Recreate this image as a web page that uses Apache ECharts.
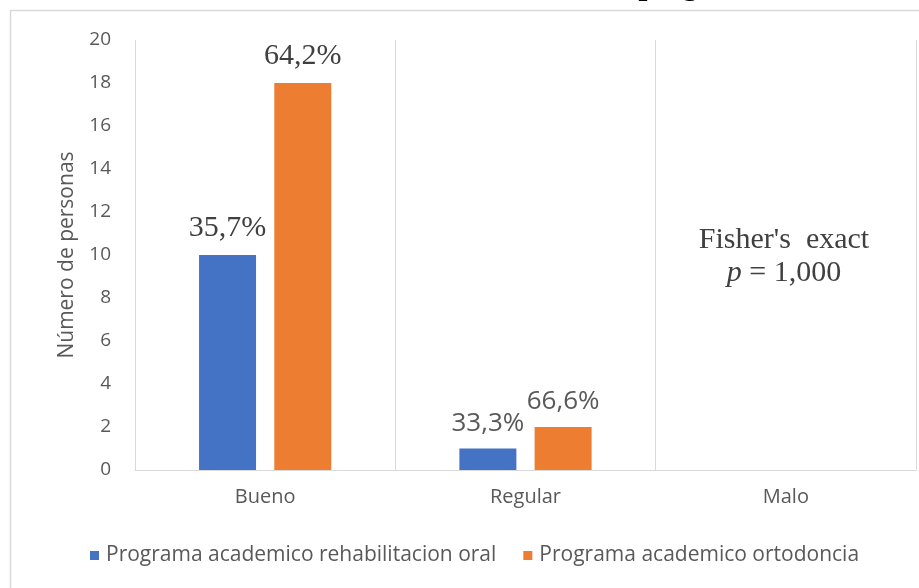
<!DOCTYPE html>
<html>
<head>
<meta charset="utf-8">
<script src="https://cdn.jsdelivr.net/npm/echarts@6/dist/echarts.min.js"></script>
<style>
  html, body { margin: 0; padding: 0; background: #fff; }
  #chart { width: 919px; height: 588px; }
</style>
</head>
<body>
<div id="chart"></div>
<script>
// Categories and counts per academic programme
const categories = ['Bueno', 'Regular', 'Malo'];
const seriesNames = ['Programa academico rehabilitacion oral', 'Programa academico ortodoncia'];
const rehabilitacion = [10, 1, 0];
const ortodoncia = [18, 2, 0];
const rehabilitacionPct = ['35,7%', '33,3%', ''];
const ortodonciaPct = ['64,2%', '66,6%', ''];
const yTicks = { min: 0, max: 20, interval: 2 };
const annotationLines = ["Fisher's  exact", '{i|p} = 1,000'];

const SERIF = '"Liberation Serif", "Times New Roman", serif';
const SANS = '"Open Sans", "Noto Sans", sans-serif';

const serifLabel = { fontFamily: SERIF, fontSize: 30, color: '#404040' };
const sansLabel = { fontFamily: SANS, fontSize: 26, color: '#595959' };

// Bueno labels are set in serif; Regular labels in sans
function buildData(values, pcts) {
  return values.map((v, i) => ({
    value: v,
    label: Object.assign({ formatter: pcts[i] }, i === 0 ? serifLabel : sansLabel)
  }));
}

const chart = echarts.init(document.getElementById('chart'), null, { renderer: 'canvas' });

chart.setOption({
  animation: false,
  backgroundColor: '#ffffff',
  grid: { left: 135, right: 3, top: 40, bottom: 118, containLabel: false },
  legend: {
    left: 85,
    top: 540,
    icon: 'rect',
    itemWidth: 9,
    itemHeight: 9,
    itemGap: 27,
    textStyle: { fontFamily: SANS, fontSize: 21, color: '#595959', padding: [0, 0, 0, 2] },
    data: seriesNames
  },
  xAxis: {
    type: 'category',
    data: categories,
    axisTick: { show: false },
    axisLine: { lineStyle: { color: '#d9d9d9', width: 1 } },
    splitLine: { show: true, lineStyle: { color: '#d9d9d9', width: 1 } },
    axisLabel: { fontFamily: SANS, fontSize: 20, color: '#595959', margin: 17 }
  },
  yAxis: {
    type: 'value',
    min: yTicks.min,
    max: yTicks.max,
    interval: yTicks.interval,
    name: 'Número de personas',
    nameLocation: 'middle',
    nameGap: 57,
    nameTextStyle: { fontFamily: SANS, fontSize: 21, color: '#595959' },
    axisLine: { show: false },
    axisTick: { show: false },
    splitLine: { show: false },
    axisLabel: { fontFamily: SANS, fontSize: 19, color: '#595959', margin: 24 }
  },
  series: [
    {
      name: seriesNames[0],
      type: 'bar',
      barWidth: 57,
      barGap: '32%',
      itemStyle: { color: '#4472C4' },
      label: { show: true, position: 'top', distance: 12 },
      data: buildData(rehabilitacion, rehabilitacionPct)
    },
    {
      name: seriesNames[1],
      type: 'bar',
      barWidth: 57,
      itemStyle: { color: '#ED7D31' },
      label: { show: true, position: 'top', distance: 12 },
      data: buildData(ortodoncia, ortodonciaPct)
    }
  ],
  graphic: [
    {
      type: 'rect',
      left: 8, top: 8,
      shape: { width: 930, height: 600 },
      style: { fill: 'none', stroke: '#d9d9d9', lineWidth: 1.5 },
      silent: true
    },
    {
      // caption above the chart frame, only its descenders fall inside the page
      type: 'text',
      x: 641, y: -30,
      style: {
        text: 'progr',
        fontFamily: SERIF, fontStyle: 'italic', fontWeight: 'bold', fontSize: 32,
        fill: '#000', verticalAlign: 'top'
      },
      silent: true
    },
    {
      type: 'text',
      x: 784, y: 240,
      style: {
        text: annotationLines[0],
        fontFamily: SERIF, fontSize: 30, fill: '#404040',
        align: 'center', verticalAlign: 'middle'
      },
      silent: true
    },
    {
      type: 'text',
      x: 784, y: 273,
      style: {
        text: annotationLines[1],
        fontFamily: SERIF, fontSize: 30, fill: '#404040',
        align: 'center', verticalAlign: 'middle',
        rich: { i: { fontFamily: SERIF, fontStyle: 'italic', fontSize: 30, fill: '#404040' } }
      },
      silent: true
    }
  ]
});
</script>
</body>
</html>
